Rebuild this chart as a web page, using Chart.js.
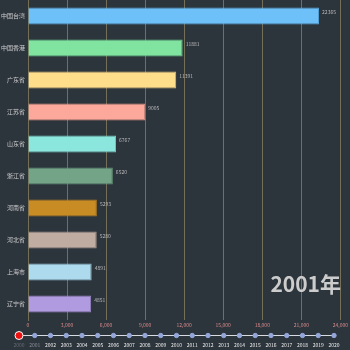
<!DOCTYPE html>
<html>
<head>
<meta charset="utf-8">
<script src="https://cdn.jsdelivr.net/npm/chart.js@4.4.0/dist/chart.umd.min.js"></script>
<style>
    html, body { margin: 0; padding: 0; background: #2c343c; }
    #wrap { position: relative; width: 350px; height: 350px; overflow: hidden; }
    #main { position: absolute; left: 0; top: 0; }
    #line { position: absolute; left: 0; top: 325px; }
</style>
</head>
<body>
<div id="wrap">
    <canvas id="main" width="350" height="332"></canvas>
    <canvas id="line" width="350" height="25"></canvas>
</div>
<script>
/** データ */
var provinces = ['中国台湾', '中国香港', '广东省', '江苏省', '山东省', '浙江省', '河南省', '河北省', '上海市', '辽宁省'];
var values    = [22365, 11881, 11391, 9005, 6767, 6520, 5293, 5280, 4891, 4851];
var colors    = ['#6ec0f8', '#80e3a0', '#fedd8b', '#fca99b', '#8be6dd', '#73a487', '#c98c25', '#c1aca1', '#aedaed', '#b19be0'];
var borders   = ['#5aa6dc', '#6cc88a', '#e0c278', '#e09486', '#76cac2', '#628f74', '#ad7820', '#a8958b', '#96bfd1', '#9885c4'];
var years     = ['2000', '2001', '2002', '2003', '2004', '2005', '2006', '2007', '2008', '2009', '2010',
                 '2011', '2012', '2013', '2014', '2015', '2016', '2017', '2018', '2019', '2020'];
var currentYear = '2001年';

var cjk = '"Noto Sans CJK SC", "Noto Sans", sans-serif';

// 値ラベル + 年表示
var labelPlugin = {
    id: 'labels',
    afterDatasetsDraw: function (chart) {
        var ctx = chart.ctx;
        var meta = chart.getDatasetMeta(0);
        ctx.save();
        ctx.font = '5px ' + cjk;
        ctx.fillStyle = '#bbbbbb';
        ctx.textAlign = 'left';
        ctx.textBaseline = 'middle';
        for (var i = 0; i < meta.data.length; i++) {
            var bar = meta.data[i];
            ctx.fillText(values[i], bar.x + 3, bar.y - 4);
        }
        ctx.font = 'bold 21px ' + cjk;
        ctx.fillStyle = '#cccccc';
        ctx.textAlign = 'right';
        ctx.textBaseline = 'alphabetic';
        ctx.fillText(currentYear, 341, 292);
        ctx.restore();
    }
};

var mainChart = new Chart(document.getElementById('main'), {
    type: 'bar',
    data: {
        labels: provinces,
        datasets: [{
            data: values,
            backgroundColor: colors,
            borderColor: borders,
            borderWidth: 1,
            barPercentage: 0.53,
            categoryPercentage: 1
        }]
    },
    options: {
        indexAxis: 'y',
        responsive: false,
        animation: false,
        layout: { padding: { left: 0, right: 8, top: 0, bottom: 0 } },
        plugins: { legend: { display: false }, tooltip: { enabled: false } },
        scales: {
            x: {
                min: 0,
                max: 24000,
                ticks: {
                    stepSize: 3000,
                    color: '#d98c8c',
                    font: { size: 5, family: cjk },
                    padding: 2,
                    maxRotation: 0,
                    callback: function (v) { return v.toLocaleString('en-US'); }
                },
                grid: { color: '#756f58', lineWidth: 1, drawTicks: false },
                border: { display: false },
                afterFit: function (scale) { scale.height = 12; }
            },
            y: {
                ticks: {
                    color: '#d0d0d0',
                    font: { size: 6, family: cjk },
                    padding: 3
                },
                grid: { display: false, drawTicks: false, tickLength: 0 },
                border: { color: '#756f58' },
                afterFit: function (scale) {
                    scale.width = 28;
                    scale.paddingTop = 0;
                    scale.paddingBottom = 0;
                }
            }
        }
    },
    plugins: [labelPlugin]
});

/** タイムライン */
var pointColors = years.map(function (y, i) { return i === 0 ? '#ee1111' : '#94a6d8'; });
var pointSizes  = years.map(function (y, i) { return i === 0 ? 4 : 2.2; });
var labelColors = years.map(function (y, i) { return i === 0 ? '#666c74' : (i === 1 ? '#8a9099' : '#eeeeee'); });

var timeline = new Chart(document.getElementById('line'), {
    type: 'line',
    data: {
        labels: years,
        datasets: [{
            data: years.map(function () { return 0; }),
            borderColor: '#d8dbe2',
            borderWidth: 1,
            pointBackgroundColor: pointColors,
            pointBorderColor: years.map(function (y, i) { return i === 0 ? '#ffffff' : '#94a6d8'; }),
            pointBorderWidth: 1,
            pointRadius: pointSizes
        }]
    },
    options: {
        responsive: false,
        animation: false,
        layout: { padding: { left: 19, right: 16, top: 6, bottom: 0 } },
        plugins: { legend: { display: false }, tooltip: { enabled: false } },
        scales: {
            x: {
                offset: false,
                ticks: {
                    color: labelColors,
                    font: { size: 5, family: cjk },
                    padding: 2,
                    maxRotation: 0,
                    autoSkip: false
                },
                grid: { display: false, drawTicks: false },
                border: { display: false },
                afterFit: function (scale) {
                    scale.height = 10;
                    scale.paddingLeft = 0;
                    scale.paddingRight = 0;
                }
            },
            y: { display: false, min: -1, max: 1 }
        }
    }
});
</script>
</body>
</html>
